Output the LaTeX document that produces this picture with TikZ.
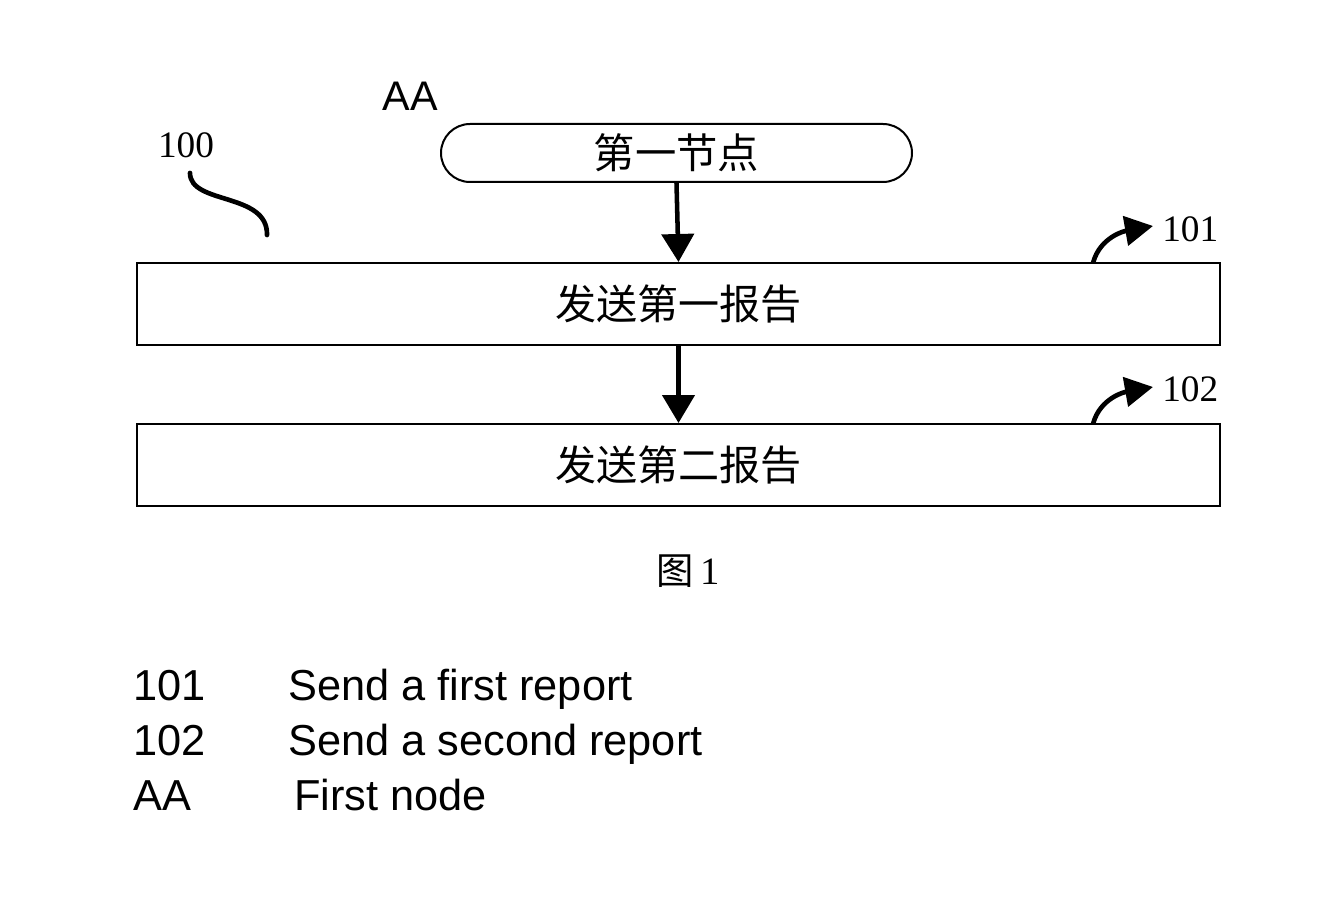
\documentclass[tikz,border=0pt]{standalone}
\usepackage{fontspec}
\setmainfont{Liberation Serif}
\newfontfamily\sansf{Liberation Sans}
\newfontfamily\cjk{Noto Sans CJK SC}
\usetikzlibrary{arrows.meta,shapes.misc}
\begin{document}
\begin{tikzpicture}[x=0.75pt,y=-0.75pt,
  stepbox/.style={draw,line width=1.5pt,minimum width=1083*0.75pt,minimum height=82*0.75pt,inner sep=0pt,font=\cjk\fontsize{30.8pt}{33pt}\selectfont},
  termbox/.style={draw,rounded rectangle,line width=1.5pt,minimum width=471*0.75pt,minimum height=58*0.75pt,inner sep=0pt,font=\cjk\fontsize{31pt}{33pt}\selectfont},
  flowarrow/.style={line width=3.4pt,-{Triangle[length=21pt,width=24pt]}},
  refarrow/.style={line width=3.5pt,-{Triangle[length=21pt,width=22pt]}},
  reflabel/.style={font=\fontsize{28pt}{30pt}\selectfont,inner sep=0pt},
  legend/.style={font=\sansf\fontsize{32.5pt}{34pt}\selectfont,inner sep=0pt,anchor=base west}
]
\useasboundingbox (0,0) rectangle (1340,920);
% nodes
\node[termbox] (n1) at (676.5,153) {第一节点};
\node[stepbox] (b1) at (678.5,304) {发送第一报告};
\node[stepbox] (b2) at (678.5,465) {发送第二报告};
\node[font=\sansf\fontsize{31pt}{34pt}\selectfont,inner sep=0pt] (aa) at (410,96) {AA};
% connectors
\draw[flowarrow] (n1.south) -- (b1.north);
\draw[flowarrow] (b1.south) -- (b2.north);
% reference 100
\node[reflabel] (l100) at (186,145) {100};
\coordinate (s1) at (190,173);
\coordinate (s2) at (267,235);
\draw[line width=3.5pt,line cap=round] (s1) .. controls (190,205) and (268,192) .. (s2);
% reference 101
\node[reflabel,anchor=west] (l101) at (1162,229) {101};
\coordinate (a1s) at (1093,263);
\coordinate (a1e) at (1153,226);
\draw[refarrow] (a1s) to[out=75,in=190] (a1e);
% reference 102
\node[reflabel,anchor=west] (l102) at (1162,389) {102};
\coordinate (a2s) at (1093,424);
\coordinate (a2e) at (1153,387);
\draw[refarrow] (a2s) to[out=75,in=190] (a2e);
% figure caption
\node[inner sep=0pt] (cap) at (688,571) {{\cjk\fontsize{28pt}{30pt}\selectfont 图}\hspace{0.55em}{\fontsize{29pt}{30pt}\selectfont 1}};
% legend
\node[legend] (k1) at (133,700) {101};
\node[legend] (v1) at (288,700) {Send a first report};
\node[legend] (k2) at (133,755) {102};
\node[legend] (v2) at (288,755) {Send a second report};
\node[legend] (k3) at (133,810) {AA};
\node[legend] (v3) at (294,810) {First node};
\end{tikzpicture}
\end{document}
